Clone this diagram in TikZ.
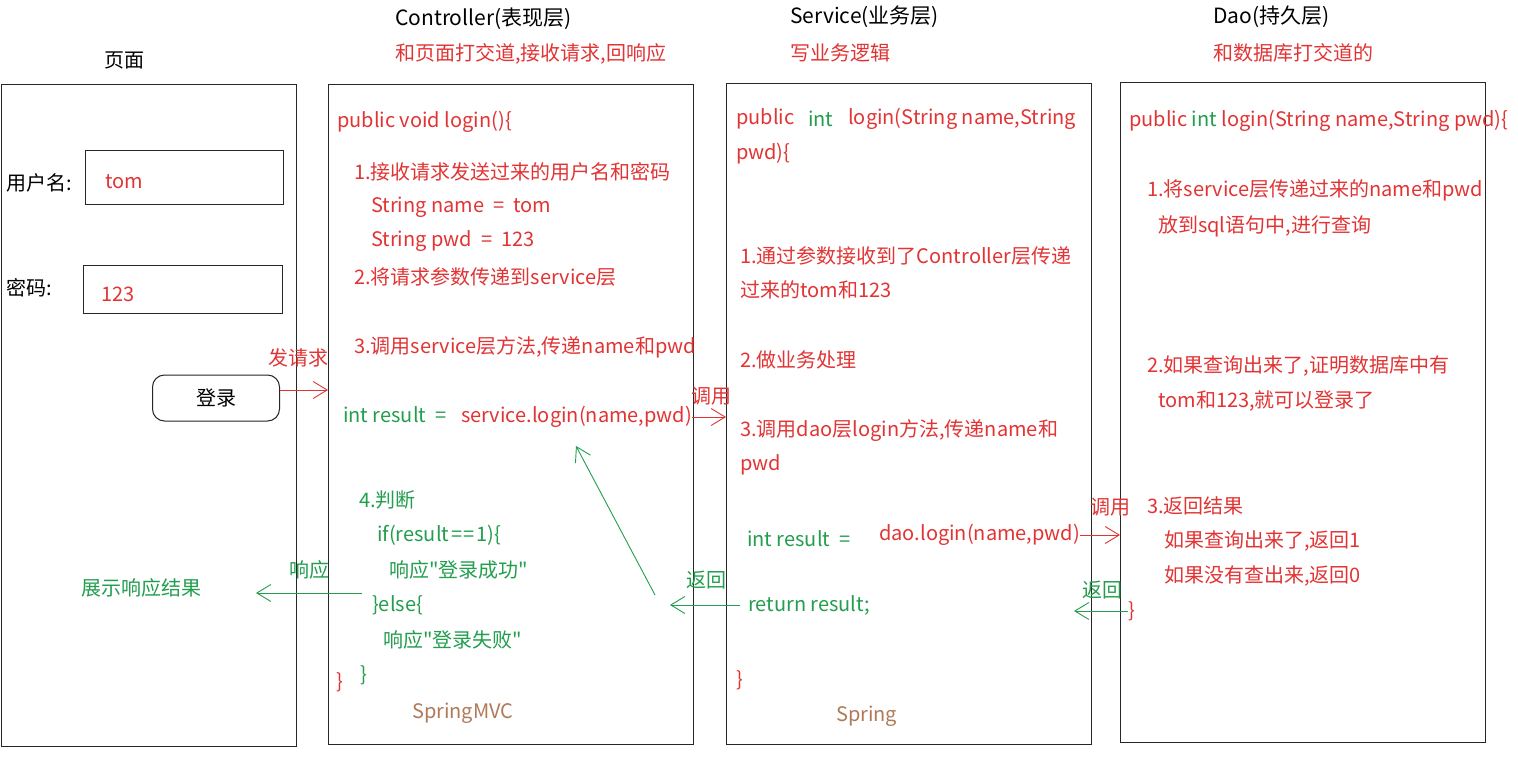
\documentclass[tikz,border=0pt]{standalone}
\usepackage{fontspec}
\setmainfont{Noto Sans CJK SC}[Ligatures=TeXOff]
\usetikzlibrary{arrows.meta}
\definecolor{cred}{RGB}{226,52,52}
\definecolor{cgreen}{RGB}{34,158,78}
\definecolor{cbrown}{RGB}{176,122,88}
\newcommand\fz{\fontsize{20}{24}\selectfont}
\newcommand\fzt{\fontsize{21}{25}\selectfont}
\newcommand\eqs{\hspace{0.45em}=\hspace{0.45em}}
\tikzset{
  frame/.style={draw=black!85, line width=1.3pt, anchor=north west, inner sep=0pt},
  tx/.style={anchor=west, inner sep=0pt, font=\fz},
  rt/.style={tx, text=cred},
  gt/.style={tx, text=cgreen},
  bt/.style={tx, text=black},
  btt/.style={tx, text=black, font=\fzt},
  brt/.style={tx, text=cbrown},
  redarr/.style={draw=cred, line width=0.9pt, -{Straight Barb[length=14pt,width=17pt,line width=0.9pt]}},
  grnarr/.style={draw=cgreen, line width=0.9pt, -{Straight Barb[length=14pt,width=17pt,line width=0.9pt]}}
}
\begin{document}
\begin{tikzpicture}[x=1pt,y=-1pt]
\useasboundingbox[fill=white] (0,0) rectangle (1518,759);
% frames
\node[frame, minimum width=295pt, minimum height=662pt] (page) at (1,84) {};
\node[frame, minimum width=365pt, minimum height=660pt] (ctrl) at (328,84) {};
\node[frame, minimum width=365pt, minimum height=661pt] (svc) at (726,83) {};
\node[frame, minimum width=365pt, minimum height=660pt] (dao) at (1120,82) {};
% titles
\node[tx, anchor=center] (ptitle) at (124,60) {页面};
\node[btt] (ctitle) at (395,19) {Controller(表现层)};
\node[rt] (csub) at (395,54) {和页面打交道,接收请求,回响应};
\node[btt] (stitle) at (790,17) {Service(业务层)};
\node[rt] (ssub) at (790,53) {写业务逻辑};
\node[btt] (dtitle) at (1213,17) {Dao(持久层)};
\node[rt] (dsub) at (1213,53) {和数据库打交道的};
% page
\node[bt] (ulabel) at (6,183) {用户名:};
\node[frame, draw=black!85, line width=1pt, minimum width=198pt, minimum height=54pt] (ubox) at (85,150) {};
\node[rt] (uval) at (105,182) {tom};
\node[bt] (plabel) at (6,288) {密码:};
\node[frame, draw=black!85, line width=1pt, minimum width=199pt, minimum height=48pt] (pbox) at (83,265) {};
\node[rt] (pval) at (101,294) {123};
\node[draw=black!85, line width=1pt, rounded corners=12pt, minimum width=127pt, minimum height=46pt, inner sep=0pt, font=\fz] (btn) at (216,398) {登录};
\node[rt] (sendlbl) at (268,358) {发请求};
\draw[redarr] (btn.east) ++(0,-8) coordinate (btnout) -- (btnout -| ctrl.west);
\node[gt] (show) at (81,588) {展示响应结果};
% controller
\node[rt] (c0) at (337,122) {public void login()\{};
\node[rt] (c1) at (354,172) {1.接收请求发送过来的用户名和密码};
\node[rt] (c2) at (371,207) {String name\eqs tom};
\node[rt] (c3) at (371,241) {String pwd\eqs 123};
\node[rt] (c4) at (354,277) {2.将请求参数传递到service层};
\node[rt] (c5) at (354,347) {3.调用service层方法,传递name和pwd};
\node[gt] (c6) at (343,415) {int result\eqs};
\node[rt] (c7) at (461,417) {service.login(name,pwd)};
\node[gt] (c8) at (359,500) {4.判断};
\node[gt] (c9) at (377,535) {if(result\hspace{0.1em}=\hspace{0.05em}=\hspace{0.1em}1)\{};
\node[gt] (c10) at (389,570) {响应"登录成功"};
\node[gt] (c11) at (372,605) {\}else\{};
\node[gt] (c12) at (383,640) {响应"登录失败"};
\node[gt] (c13) at (360,675) {\}};
\node[rt] (c14) at (336,682) {\}};
\node[brt] (c15) at (412,713) {SpringMVC};
\node[rt] (call1) at (691,396) {调用};
\draw[redarr] (c7.east) -- (c7.east -| svc.west);
\node[gt] (resp) at (289,570) {响应};
\coordinate (respstart) at (362,593);
\coordinate (respend) at (256,593);
\draw[grnarr] (respstart) -- (respend);
\coordinate (upstart) at (655,595);
\coordinate (upend) at (576,446);
\draw[grnarr] (upstart) -- (upend);
% service
\node[rt] (s0a) at (736,119) {public};
\node[gt] (s0b) at (808,119) {int};
\node[rt] (s0c) at (848,119) {login(String name,String};
\node[rt] (s1) at (736,154) {pwd)\{};
\node[rt] (s2) at (740,256) {1.通过参数接收到了Controller层传递};
\node[rt] (s3) at (740,290) {过来的tom和123};
\node[rt] (s4) at (740,360) {2.做业务处理};
\node[rt] (s5) at (740,431) {3.调用dao层login方法,传递name和};
\node[rt] (s6) at (740,465) {pwd};
\node[gt] (s7) at (747,539) {int result\eqs};
\node[rt] (s8) at (879,535) {dao.login(name,pwd)};
\node[gt] (s9) at (748,605) {return result;};
\node[rt] (s10) at (736,680) {\}};
\node[brt] (s11) at (836,716) {Spring};
\node[gt] (ret1) at (686,580) {返回};
\coordinate (ret1end) at (670,605);
\draw[grnarr] (s9.west) ++(-8,0) coordinate (ret1start) -- (ret1end);
\node[rt] (call2) at (1090,507) {调用};
\draw[redarr] (s8.east) -- (s8.east -| dao.west);
% dao
\node[rt] (d0) at (1129,121) {public \textcolor{cgreen}{int} login(String name,String pwd)\{};
\node[rt] (d1) at (1147,190) {1.将service层传递过来的name和pwd};
\node[rt] (d2) at (1158,226) {放到sql语句中,进行查询};
\node[rt] (d3) at (1147,366) {2.如果查询出来了,证明数据库中有};
\node[rt] (d4) at (1158,401) {tom和123,就可以登录了};
\node[rt] (d5) at (1147,506) {3.返回结果};
\node[rt] (d6) at (1164,541) {如果查询出来了,返回1};
\node[rt] (d7) at (1164,576) {如果没有查出来,返回0};
\node[rt] (d8) at (1128,611) {\}};
\node[gt] (ret2) at (1082,590) {返回};
\coordinate (ret2end) at (1074,611);
\draw[grnarr] (d8.west) -- (ret2end);
\end{tikzpicture}
\end{document}
